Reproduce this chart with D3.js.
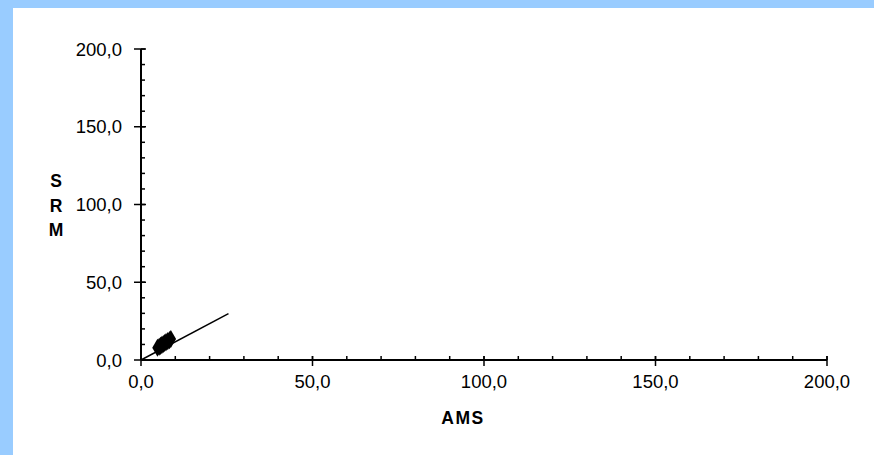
<!DOCTYPE html>
<html>
<head>
<meta charset="utf-8">
<script src="https://cdn.jsdelivr.net/npm/d3@7"></script>
<style>
  html, body { margin: 0; padding: 0; background: #99ccff; }
  svg { display: block; }
  .tick-label { font-family: "Liberation Sans", Arial, sans-serif; font-size: 18.5px; fill: #000; }
  .axis-title { font-family: "Liberation Sans", Arial, sans-serif; font-size: 17.5px; font-weight: bold; fill: #000; }
</style>
</head>
<body>
<svg id="chart" width="874" height="455"></svg>
<script>
// data
var amsValues = [4.8, 5.3, 5.7, 6.1, 6.5, 6.9, 7.3, 7.8, 8.3, 8.7];
var srmValues = [7.9, 8.5, 9.1, 9.7, 10.3, 10.9, 11.5, 12.1, 12.8, 13.5];
var fitX = [0, 25.5];
var fitY = [0, 29.8];
var majorTicks = [0, 50, 100, 150, 200];
var minorTicks = d3.range(0, 201, 10);
var xTitle = "AMS";
var yTitle = ["S", "R", "M"];

var svg = d3.select("#chart");

// white plot card over the blue frame
svg.append("rect")
    .attr("x", 13).attr("y", 8)
    .attr("width", 874 - 13).attr("height", 455 - 8)
    .attr("fill", "#ffffff");

var xScale = d3.scaleLinear().domain([0, 200]).range([141, 827]);
var yScale = d3.scaleLinear().domain([0, 200]).range([360, 49]);

var fmt = function(d) { return d3.format(".1f")(d).replace(".", ","); };

// minor ticks (inside)
svg.append("g").selectAll("line.xminor")
    .data(minorTicks).enter().append("line")
    .attr("x1", d => xScale(d)).attr("x2", d => xScale(d))
    .attr("y1", yScale(0)).attr("y2", yScale(0) - 4)
    .attr("stroke", "#000").attr("stroke-width", 1.5);

svg.append("g").selectAll("line.yminor")
    .data(minorTicks).enter().append("line")
    .attr("y1", d => yScale(d)).attr("y2", d => yScale(d))
    .attr("x1", xScale(0)).attr("x2", xScale(0) + 4)
    .attr("stroke", "#000").attr("stroke-width", 1.5);

// major ticks (cross)
svg.append("g").selectAll("line")
    .data(majorTicks).enter().append("line")
    .attr("x1", d => xScale(d)).attr("x2", d => xScale(d))
    .attr("y1", yScale(0) - 4).attr("y2", yScale(0) + 6)
    .attr("stroke", "#000").attr("stroke-width", 1.5);

svg.append("g").selectAll("line")
    .data(majorTicks).enter().append("line")
    .attr("y1", d => yScale(d)).attr("y2", d => yScale(d))
    .attr("x1", xScale(0) - 7).attr("x2", xScale(0) + 5)
    .attr("stroke", "#000").attr("stroke-width", 1.5);

// axis lines
svg.append("line")
    .attr("x1", xScale(0)).attr("x2", xScale(200))
    .attr("y1", yScale(0)).attr("y2", yScale(0))
    .attr("stroke", "#000").attr("stroke-width", 2);
svg.append("line")
    .attr("x1", xScale(0)).attr("x2", xScale(0))
    .attr("y1", yScale(0)).attr("y2", yScale(200))
    .attr("stroke", "#000").attr("stroke-width", 2);

// tick labels
svg.append("g").selectAll("text")
    .data(majorTicks).enter().append("text")
    .attr("class", "tick-label")
    .attr("x", d => xScale(d))
    .attr("y", yScale(0) + 28)
    .attr("text-anchor", "middle")
    .text(fmt);

svg.append("g").selectAll("text")
    .data(majorTicks).enter().append("text")
    .attr("class", "tick-label")
    .attr("x", xScale(0) - 19)
    .attr("y", d => yScale(d) + 6.5)
    .attr("text-anchor", "end")
    .text(fmt);

// titles
svg.append("text")
    .attr("class", "axis-title")
    .attr("x", 463).attr("y", 424)
    .attr("text-anchor", "middle")
    .attr("letter-spacing", "1.5px")
    .text(xTitle);

svg.append("g").selectAll("text")
    .data(yTitle).enter().append("text")
    .attr("class", "axis-title")
    .attr("x", 56)
    .attr("y", (d, i) => 187 + i * 24.5)
    .attr("text-anchor", "middle")
    .text(d => d);

// trend line
var line = d3.line().x(d => xScale(d[0])).y(d => yScale(d[1]));
svg.append("path")
    .datum(d3.zip(fitX, fitY))
    .attr("d", line)
    .attr("fill", "none")
    .attr("stroke", "#000")
    .attr("stroke-width", 1.5);

// diamond markers
var diamond = d3.symbol().type(d3.symbolDiamond).size(95);
svg.append("g").selectAll("path")
    .data(d3.zip(amsValues, srmValues)).enter().append("path")
    .attr("d", diamond)
    .attr("transform", d => "translate(" + xScale(d[0]) + "," + yScale(d[1]) + ")")
    .attr("fill", "#000");
</script>
</body>
</html>
